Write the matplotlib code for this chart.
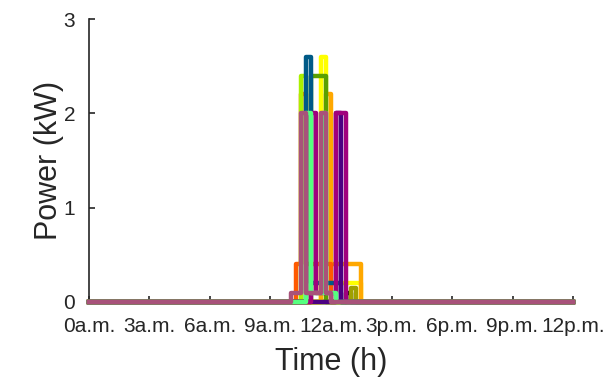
import matplotlib
matplotlib.use("Agg")
import matplotlib.pyplot as plt

plt.rcParams['font.family'] = ['Liberation Sans', 'DejaVu Sans']

# hour ticks
tick_hours = [0, 3, 6, 9, 12, 15, 18, 21, 24]
tick_labels = ['0a.m.', '3a.m.', '6a.m.', '9a.m.', '12a.m.', '3p.m.', '6p.m.', '9p.m.', '12p.m.']

# appliance power profiles: switching times (h) and power (kW) after each switch
black_t = [0, 12.75, 13.0, 24]
black_p = [0, 0.1, 0, 0]
olive_t = [0, 13.0, 13.25, 24]
olive_p = [0, 0.15, 0, 0]
yellow_t = [0, 11.5, 11.75, 13.5, 24]
yellow_p = [0, 2.6, 0.2, 0, 0]
orange_t = [0, 11.5, 11.75, 12.0, 13.5, 24]
orange_p = [0, 0.4, 2.2, 0.4, 0, 0]
orangered_t = [0, 10.25, 10.5, 10.75, 12.0, 24]
orangered_p = [0, 0.4, 2.2, 0.4, 0, 0]
lime_t = [0, 10.5, 10.75, 24]
lime_p = [0, 2.4, 0, 0]
green_t = [0, 11.0, 11.75, 24]
green_p = [0, 2.4, 0, 0]
blue_t = [0, 10.75, 11.0, 12.5, 24]
blue_p = [0, 2.6, 0.2, 0, 0]
indigo_t = [0, 12.25, 12.5, 24]
indigo_p = [0, 2.0, 0, 0]
magenta_t = [0, 11.0, 11.25, 12.25, 12.75, 24]
magenta_p = [0, 2.0, 0.1, 2.0, 0, 0]
mint_t = [0, 10.75, 11.0, 11.6, 11.75, 12.25, 24]
mint_p = [0, 2.0, 0.1, 2.0, 0.1, 0, 0]
mauve_t = [0, 10.0, 10.5, 10.75, 11.5, 11.75, 12.0, 24]
mauve_p = [0, 0.1, 2.0, 0.1, 2.0, 0.1, 0, 0]

series = [
    (black_t, black_p, '#000000'),
    (olive_t, olive_p, '#a0a000'),
    (yellow_t, yellow_p, '#ffff00'),
    (orange_t, orange_p, '#ffa800'),
    (orangered_t, orangered_p, '#ff5a00'),
    (lime_t, lime_p, '#aaf000'),
    (green_t, green_p, '#5aa000'),
    (blue_t, blue_p, '#005a87'),
    (indigo_t, indigo_p, '#4b0082'),
    (magenta_t, magenta_p, '#a0007d'),
    (mint_t, mint_p, '#55ff80'),
    (mauve_t, mauve_p, '#a8527a'),
]

fig = plt.figure(figsize=(6.12, 3.78), dpi=100)
ax = fig.add_axes([0.1454, 0.2011, 0.7909, 0.7486])

for t, p, c in series:
    ax.step(t, p, where='post', color=c, lw=3.2, zorder=3, clip_on=False)

ax.set_xlim(0, 24)
ax.set_ylim(0, 3)
ax.set_xticks(tick_hours)
ax.set_xticklabels(tick_labels)
ax.set_yticks([0, 1, 2, 3])

ax.spines['top'].set_visible(False)
ax.spines['right'].set_visible(False)
for s in ['left', 'bottom']:
    ax.spines[s].set_color('#262626')
    ax.spines[s].set_linewidth(1.2)
ax.tick_params(direction='in', length=4, width=1.2, colors='#262626', labelsize=15)
ax.tick_params(axis='x', pad=11)
ax.tick_params(axis='y', pad=10)

ax.set_xlabel('Time (h)', fontsize=22, color='#262626', va='center')
ax.set_ylabel('Power (kW)', fontsize=22, color='#262626', va='center')
ax.xaxis.set_label_coords(0.5, -0.212)
ax.yaxis.set_label_coords(-0.083, 0.5)

fig.savefig('out.png', dpi=100)
